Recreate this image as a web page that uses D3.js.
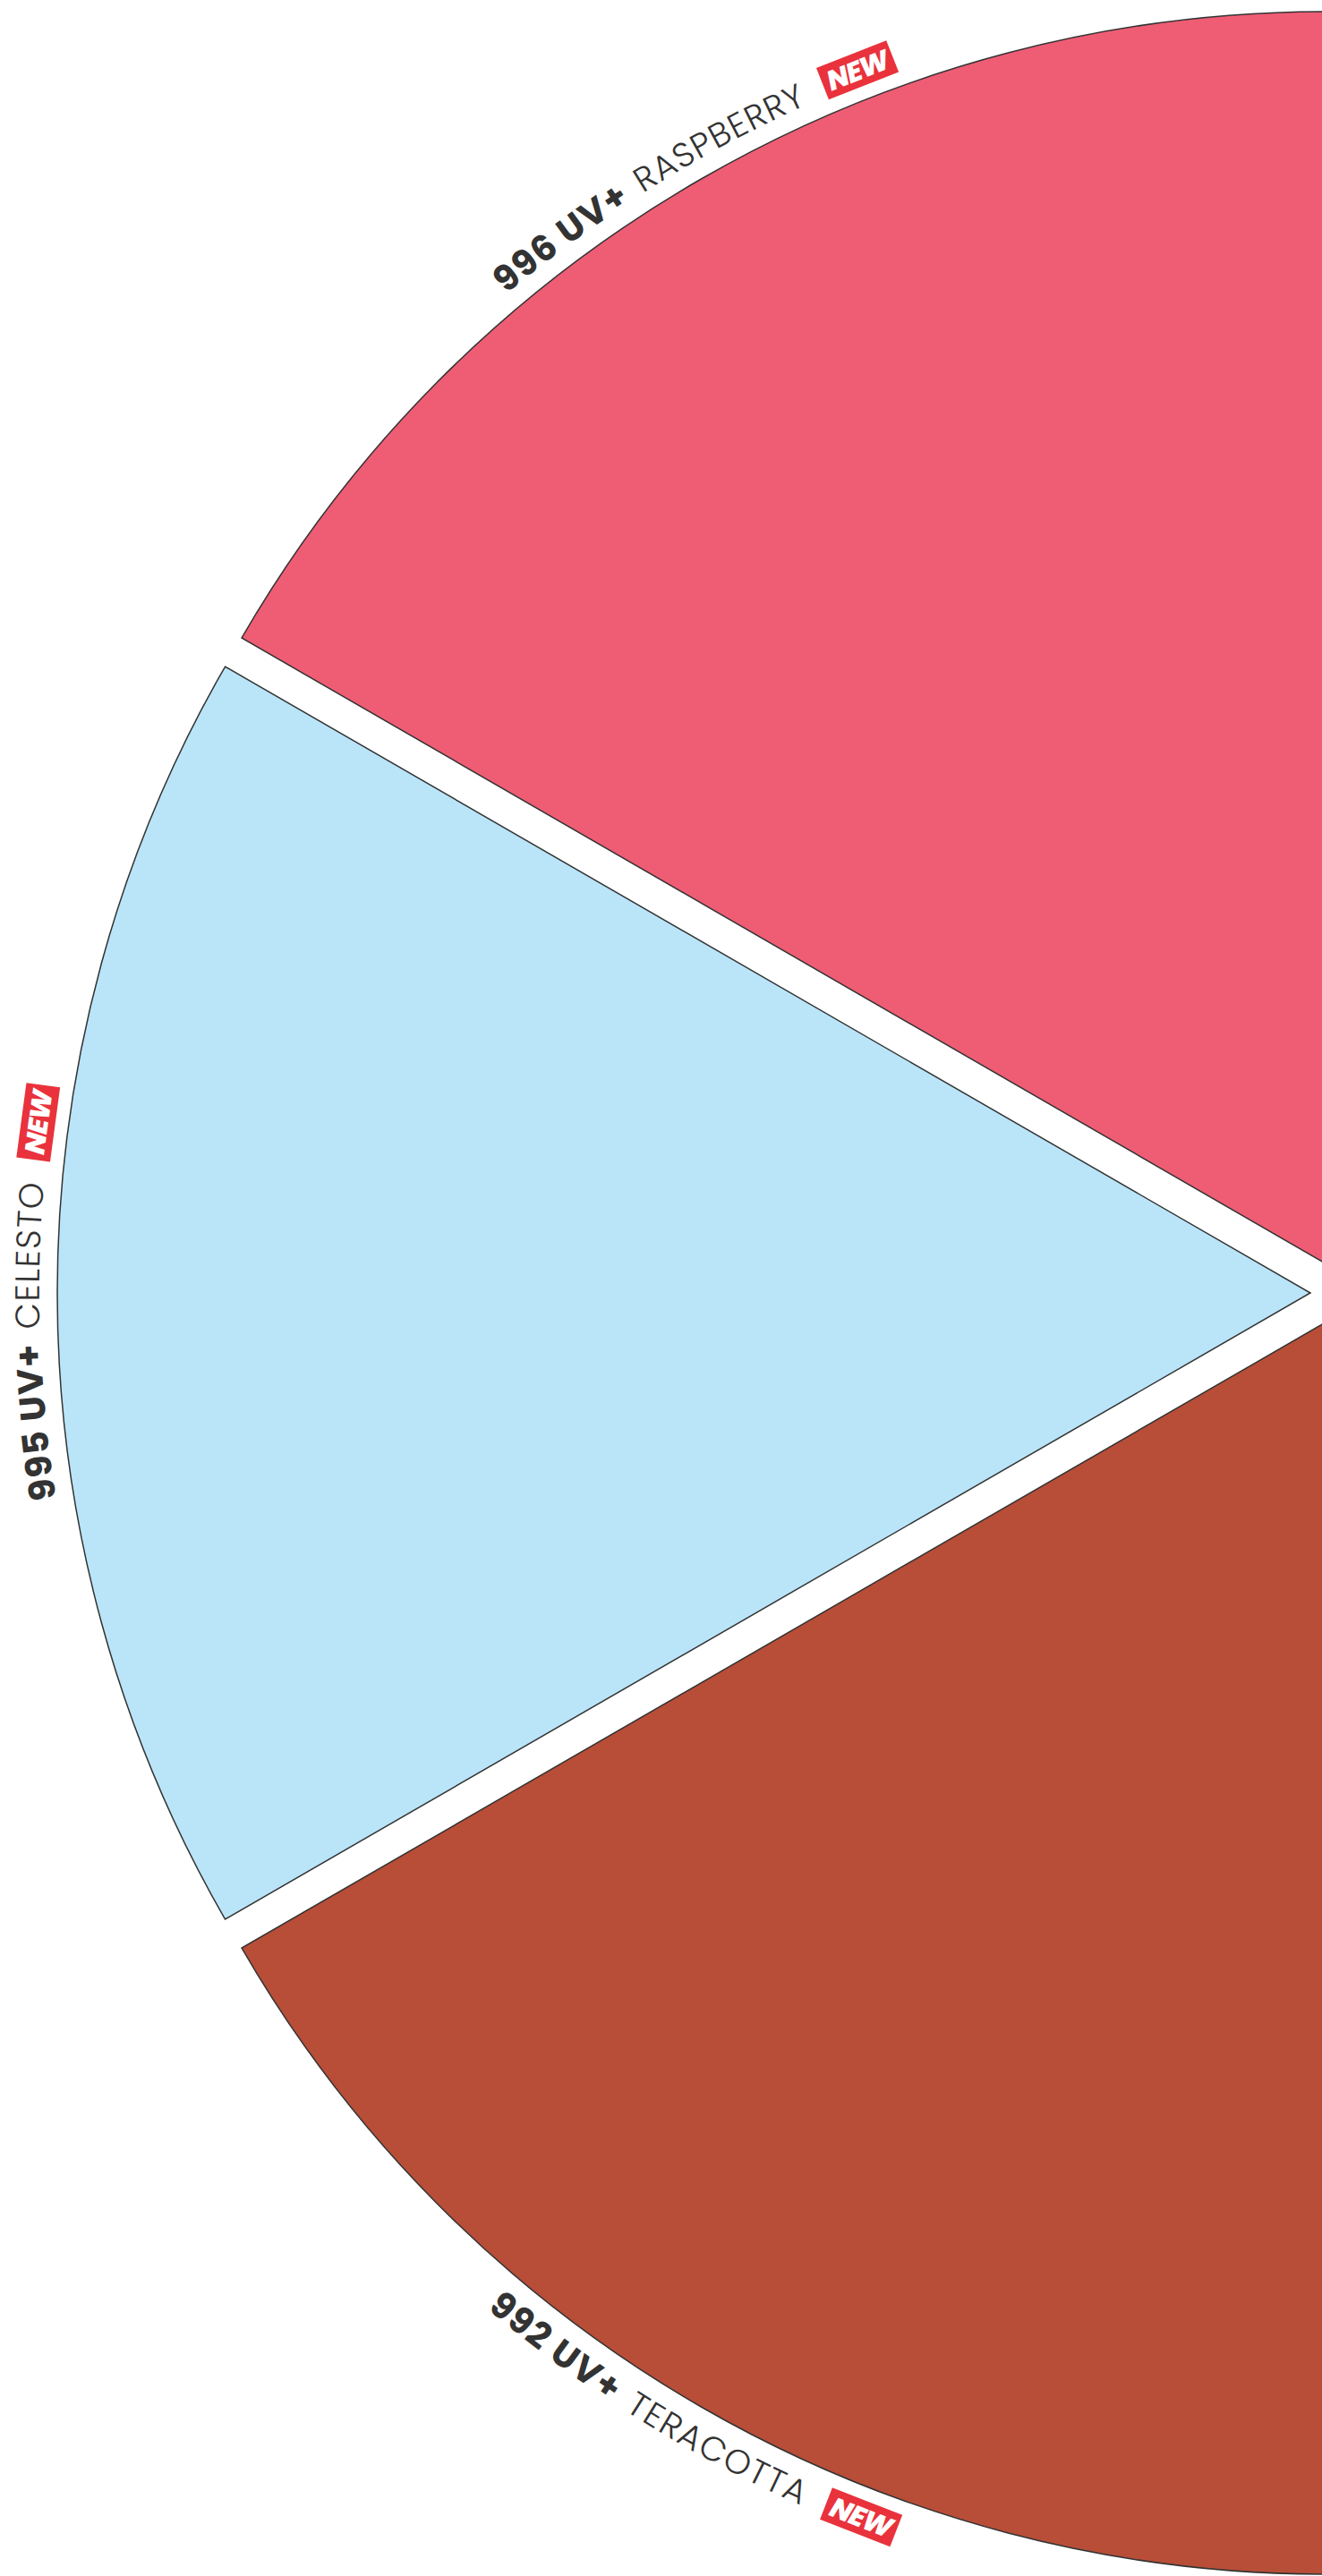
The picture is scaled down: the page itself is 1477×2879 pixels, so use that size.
<!DOCTYPE html>
<html lang="en">
<head>
	<meta charset="utf-8">
	<title>UV+ colours</title>
	<script src="https://d3js.org/d3.v7.min.js" charset="utf-8"></script>
	<style>
		body { margin: 0; background: #ffffff; }
		svg { display: block; }
	</style>
</head>
<body>
	<script>
		// the three colours, top to bottom
		var codes = ["996 UV+", "995 UV+", "992 UV+"];
		var names = ["RASPBERRY", "CELESTO", "TERACOTTA"];
		var values = [1, 1, 1];   // equal 60 degree slices
		var fills = ["#EF5D74", "#BAE5F9", "#B84E38"];
		var badgeText = "NEW";

		var w = 1477;
		var h = 2879;
		var cx = 1501, cy = 1445;   // pie centre sits just off the right edge
		var radius = 1400;
		var explode = 37;           // each slice pulled out along its middle
		var labelR = 1434;          // label centre line, measured from slice tip
		var gap1 = 16, gap2 = 24;   // code -> name, name -> badge
		var badgeW = 84, badgeH = 38;
		var font = "Poppins, Lato, sans-serif";

		var svg = d3.select("body")
			.append("svg")
			.attr("width", w)
			.attr("height", h);

		// start at 12 o'clock and go anticlockwise to 6 o'clock
		var pie = d3.pie().sort(null).startAngle(0).endAngle(-Math.PI);
		var arc = d3.arc().innerRadius(0).outerRadius(radius);

		var slices = pie(values).map(function(d, i) {
			var mid = (d.startAngle + d.endAngle) / 2;
			return {
				arc: d,
				i: i,
				mid: mid,
				dir: Math.cos(mid) < -0.5 ? -1 : 1,   // bottom labels read the other way
				dx: explode * Math.sin(mid),
				dy: -explode * Math.cos(mid)
			};
		});

		var root = svg.append("g")
			.attr("transform", "translate(" + cx + "," + cy + ")");

		var slice = root.selectAll("g.slice")
			.data(slices)
			.enter()
			.append("g")
			.attr("class", "slice")
			.attr("transform", function(d) { return "translate(" + d.dx + "," + d.dy + ")"; });

		slice.append("path")
			.attr("d", function(d) { return arc(d.arc); })
			.attr("fill", function(d) { return fills[d.i]; })
			.attr("stroke", "#333333")
			.attr("stroke-width", 1.5);

		// point on the label circle for a d3 angle
		function pt(a, r) { return [r * Math.sin(a), -r * Math.cos(a)]; }

		var span = 0.5; // half the guide arc, radians
		var halfLen = span * labelR;

		slice.each(function(d) {
			var sel = d3.select(this);
			var id = "guide" + d.i;
			var c = d.mid;
			var a0 = c - d.dir * span, a1 = c + d.dir * span;
			var p0 = pt(a0, labelR), p1 = pt(a1, labelR);
			sel.append("path")
				.attr("id", id)
				.attr("fill", "none")
				.attr("d", "M" + p0[0] + "," + p0[1] + "A" + labelR + "," + labelR + " 0 0 " + (d.dir > 0 ? 1 : 0) + " " + p1[0] + "," + p1[1]);

			var code = sel.append("text")
				.attr("dy", "0.36em")
				.style("font-family", font)
				.style("font-size", "40px")
				.style("font-weight", 700)
				.style("letter-spacing", "1.5px")
				.attr("fill", "#333333");
			var codePath = code.append("textPath")
				.attr("href", "#" + id)
				.text(codes[d.i]);

			var name = sel.append("text")
				.attr("dy", "0.36em")
				.style("font-family", font)
				.style("font-size", "38px")
				.style("font-weight", 300)
				.style("letter-spacing", "1.5px")
				.attr("fill", "#333333");
			var namePath = name.append("textPath")
				.attr("href", "#" + id)
				.text(names[d.i]);

			var lc = code.node().getComputedTextLength();
			var ln = name.node().getComputedTextLength();
			var total = lc + gap1 + ln + gap2 + badgeW;
			var s0 = halfLen - total / 2;
			codePath.attr("startOffset", s0);
			namePath.attr("startOffset", s0 + lc + gap1);

			// badge sits at the end of the label, tangent to the circle
			var s = -total / 2 + lc + gap1 + ln + gap2 + badgeW / 2;
			var phi = c + d.dir * s / labelR;
			var bp = pt(phi, labelR);
			var rot = phi * 180 / Math.PI + (d.dir < 0 ? 180 : 0);
			var b = sel.append("g")
				.attr("transform", "translate(" + bp[0] + "," + bp[1] + ") rotate(" + rot + ")");
			b.append("rect")
				.attr("x", -badgeW / 2)
				.attr("y", -badgeH / 2)
				.attr("width", badgeW)
				.attr("height", badgeH)
				.attr("fill", "#E9323C");
			b.append("text")
				.attr("text-anchor", "middle")
				.attr("dy", "0.36em")
				.style("font-family", font)
				.style("font-size", "31px")
				.style("font-weight", 800)
				.style("font-style", "italic")
				.style("letter-spacing", "-1px")
				.attr("fill", "#ffffff")
				.text(badgeText);
		});
	</script>
</body>
</html>
